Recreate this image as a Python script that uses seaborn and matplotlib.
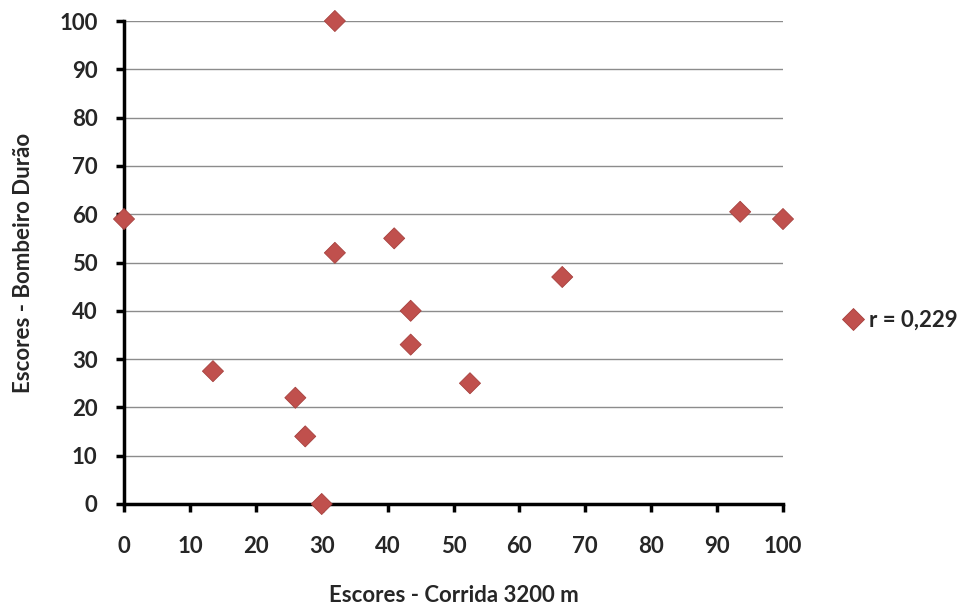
import matplotlib
matplotlib.use("Agg")
import matplotlib.pyplot as plt
import seaborn as sns
import pandas as pd

corrida = [0, 13.5, 26, 27.5, 30, 32, 32, 41, 43.5, 43.5, 52.5, 66.5, 93.5, 100]
bombeiro = [59, 27.5, 22, 14, 0, 100, 52, 55, 40, 33, 25, 47, 60.5, 59]
serie = "r = 0,229"
x_ticks = [0, 10, 20, 30, 40, 50, 60, 70, 80, 90, 100]
y_ticks = [0, 10, 20, 30, 40, 50, 60, 70, 80, 90, 100]

df = pd.DataFrame({"x": corrida, "y": bombeiro, "s": serie})

sns.set_theme(style="white")
plt.rcParams["font.family"] = ["Lato", "DejaVu Sans"]
plt.rcParams["font.weight"] = "bold"

fig = plt.figure(figsize=(9.68, 6.12), dpi=100)
ax = fig.add_axes([124/968, 108/612, (783-124)/968, (504-21)/612])

ax.set_xlim(0, 100)
ax.set_ylim(0, 100)
ax.set_yticks(y_ticks)
ax.set_xticks(x_ticks)
for yv in y_ticks[1:]:
    ax.axhline(yv, color="#8c8c8c", lw=1.0, zorder=0)

sns.scatterplot(data=df, x="x", y="y", hue="s", palette=["#C0504D"], marker="D",
                s=115, edgecolor="#A6403D", linewidth=0.6, ax=ax, clip_on=False, zorder=5)

for side in ["top", "right"]:
    ax.spines[side].set_visible(False)
for side in ["left", "bottom"]:
    ax.spines[side].set_color("black")
    ax.spines[side].set_linewidth(2.5)

ax.tick_params(axis="x", which="major", direction="out", length=6, width=2.5,
               color="black", labelsize=16, pad=17, bottom=True)
ax.tick_params(axis="y", which="major", direction="out", length=6, width=2.5,
               color="black", labelsize=16, pad=13, left=True)
for lab in ax.get_xticklabels() + ax.get_yticklabels():
    lab.set_fontweight("bold")

ax.set_xlabel("Escores - Corrida 3200 m", fontsize=16, fontweight="bold", labelpad=20)
ax.set_ylabel("Escores - Bombeiro Durão", fontsize=16, fontweight="bold", labelpad=18)

leg = ax.legend(loc="center left", bbox_to_anchor=(1.09, 0.38), frameon=False,
                handlelength=1.0, handletextpad=0.2, fontsize=16, markerscale=1.0,
                borderaxespad=0, borderpad=0)
for t in leg.get_texts():
    t.set_fontweight("bold")

fig.savefig("out.png", dpi=100)
